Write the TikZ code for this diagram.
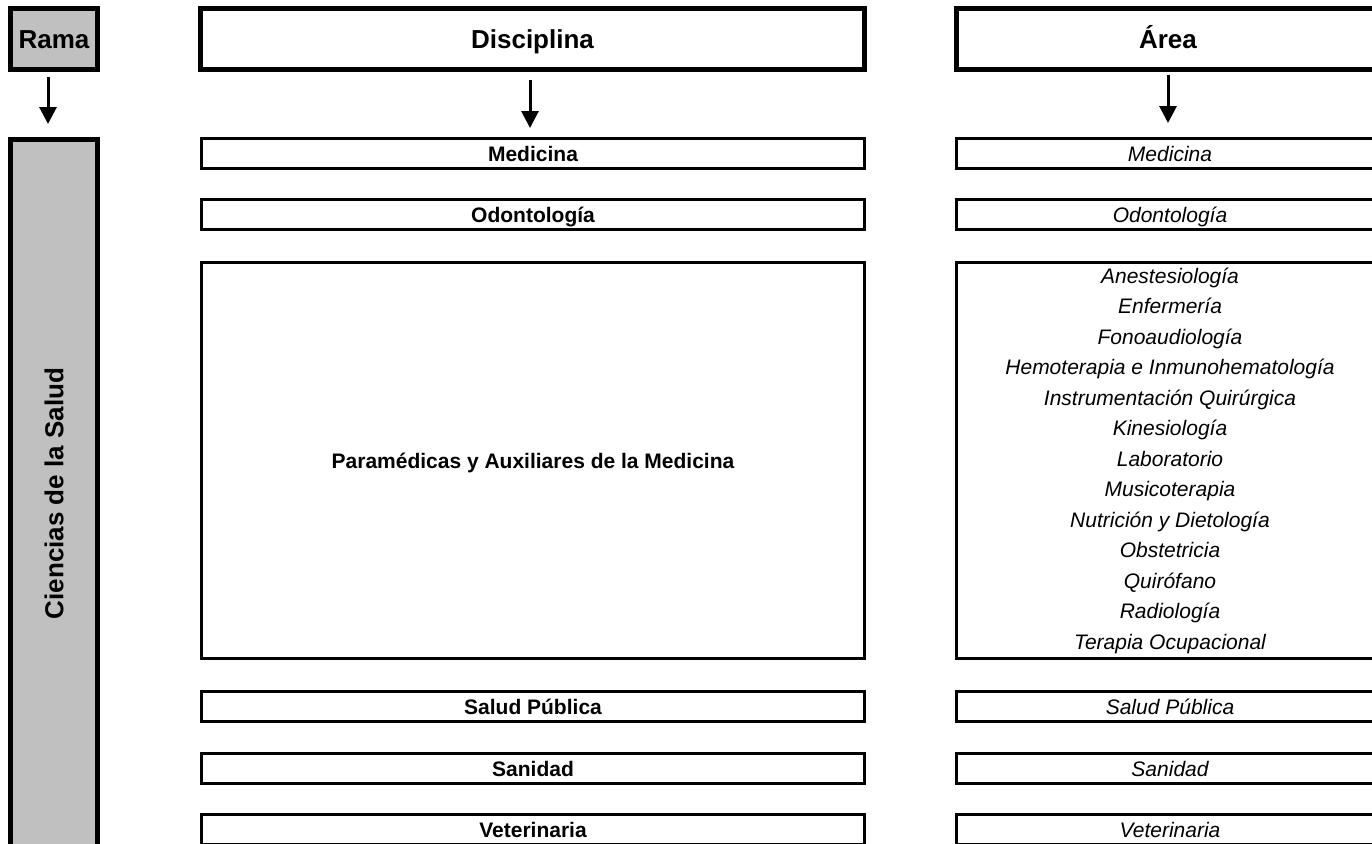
\documentclass[tikz,border=0pt]{standalone}
\usepackage{fontspec}
\setmainfont{Liberation Sans}
\usepackage{tikz}
\usetikzlibrary{arrows.meta,positioning}
\definecolor{ramagray}{HTML}{C0C0C0}
\tikzset{
  head/.style={draw=black, line width=5pt, inner sep=0pt, outer sep=0pt, minimum height=61pt, text height=18.7pt, text depth=0pt, font=\fontsize{26}{30}\selectfont\bfseries},
  grey/.style={fill=ramagray},
  disc/.style={draw=black, line width=3pt, inner sep=0pt, outer sep=0pt, minimum width=663pt, font=\fontsize{21}{25}\selectfont\bfseries},
  areabox/.style={draw=black, line width=3pt, inner sep=0pt, outer sep=0pt, minimum width=427pt, align=center, font=\fontsize{21}{30.5}\selectfont\itshape},
  caps/.style={text height=15.1pt, text depth=0pt},
  down/.style={line width=3pt, -{Triangle[width=17pt,length=17pt]}},
}

\begin{document}
\begin{tikzpicture}[x=1pt,y=-1pt]
\useasboundingbox (0,0) rectangle (1372,843);
\clip (0,0) rectangle (1372,843);

% headers
\node[head, grey, minimum width=87pt] (rama) at (54,39) {Rama};
\node[head, minimum width=664pt] (disciplina) at (532.5,39) {Disciplina};
\node[head, minimum width=423pt] (area) at (1168,39) {Área};

% branch
\node[head, grey, text height=, text depth=, minimum width=87pt, minimum height=708pt] (ciencias) at (54,493.5) {\rotatebox{90}{Ciencias de la Salud}};

% one row per discipline (same area name)
\foreach \n/\y/\t in {med/153.5/Medicina, odo/214.5/Odontología, sal/706.5/Salud Pública, san/768.5/Sanidad, vet/829.5/Veterinaria}{
  \node[disc, caps, minimum height=30pt] (d\n) at (533,\y) {\t};
  \node[areabox, caps, minimum height=30pt] (a\n) at (1170,\y) {\t};
}

\node[disc, caps, minimum height=396pt] (dpar) at (533,460.5) {Paramédicas y Auxiliares de la Medicina};
\node[areabox, minimum height=396pt] (apar) at (1170,460.5) {Anestesiología\\Enfermería\\Fonoaudiología\\Hemoterapia e Inmunohematología\\Instrumentación Quirúrgica\\Kinesiología\\Laboratorio\\Musicoterapia\\Nutrición y Dietología\\Obstetricia\\Quirófano\\Radiología\\Terapia Ocupacional};

% arrows
\draw[down] ([xshift=-6pt,yshift=-7.5pt]rama.south) -- ([xshift=-6pt,yshift=15.5pt]ciencias.north);
\draw[down] ([xshift=-2.5pt,yshift=-10.5pt]disciplina.south) -- ([xshift=-3pt,yshift=10.5pt]dmed.north);
\draw[down] ([yshift=-5.5pt]area.south) -- ([xshift=-2pt,yshift=15.5pt]amed.north);
\end{tikzpicture}
\end{document}
